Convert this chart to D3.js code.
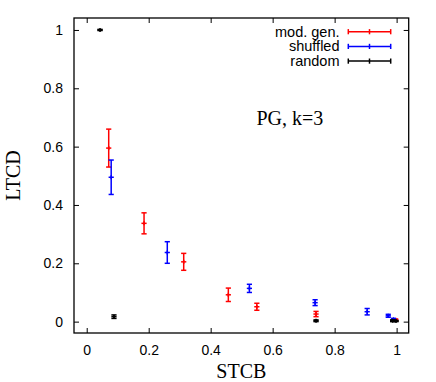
<!DOCTYPE html>
<html>
<head>
<meta charset="utf-8">
<script src="https://cdn.jsdelivr.net/npm/d3@7"></script>
<style>
  body { margin: 0; background: #fff; }
  svg { display: block; }
</style>
</head>
<body>
<div class="chart"></div>
<script>
const WIDTH = 436
const HEIGHT = 382

// values (STCB, LTCD, error)
const modX = [0.071, 0.185, 0.313, 0.457, 0.549, 0.740, 0.997]
const modY = [0.595, 0.337, 0.205, 0.092, 0.051, 0.026, 0.006]
const modE = [0.065, 0.036, 0.029, 0.023, 0.012, 0.009, 0.003]

const shufX = [0.079, 0.260, 0.525, 0.737, 0.905, 0.973, 0.990]
const shufY = [0.495, 0.237, 0.114, 0.065, 0.034, 0.020, 0.008]
const shufE = [0.059, 0.037, 0.014, 0.010, 0.011, 0.005, 0.003]

const randX = [0.043, 0.088, 0.740, 0.987, 0.998]
const randY = [1.0, 0.017, 0.003, 0.003, 0.002]
const randE = [0.002, 0.006, 0.003, 0.003, 0.002]

const seriesNames = ["mod. gen.", "shuffled", "random"]
const seriesColors = ["#ff0000", "#0000ff", "#000000"]
const xTicks = [0, 0.2, 0.4, 0.6, 0.8, 1]
const yTicks = [0, 0.2, 0.4, 0.6, 0.8, 1]

const pLeft = 74, pRight = 408.7, pTop = 18, pBottom = 333

const x = d3.scaleLinear().domain([-0.041, 1.039]).range([pLeft, pRight])
const y = d3.scaleLinear().domain([-0.039, 1.041]).range([pBottom, pTop])

const svg = d3.select("div.chart")
            .append("svg")
            .attr("width", WIDTH)
            .attr("height", HEIGHT);

const font = "'Liberation Sans', Arial, sans-serif"
const serif = "'Liberation Serif', 'Times New Roman', serif"

// axes: labels outside, ticks inward, mirrored on top/right
const axB = svg.append("g").attr("transform", `translate(0,${pBottom})`)
            .call(d3.axisBottom(x).tickValues(xTicks).tickSizeInner(-5).tickSizeOuter(0)
                  .tickPadding(12).tickFormat(d3.format("~g")))
const axL = svg.append("g").attr("transform", `translate(${pLeft},0)`)
            .call(d3.axisLeft(y).tickValues(yTicks).tickSizeInner(-5).tickSizeOuter(0)
                  .tickPadding(11).tickFormat(d3.format("~g")))
const axT = svg.append("g").attr("transform", `translate(0,${pTop})`)
            .call(d3.axisTop(x).tickValues(xTicks).tickSizeInner(-5).tickSizeOuter(0).tickFormat(""))
const axR = svg.append("g").attr("transform", `translate(${pRight},0)`)
            .call(d3.axisRight(y).tickValues(yTicks).tickSizeInner(-5).tickSizeOuter(0).tickFormat(""))

for (const ax of [axB, axL, axT, axR]) {
  ax.select(".domain").remove()
  ax.selectAll("line").attr("stroke", "#000").attr("stroke-width", 1)
  ax.selectAll("text").attr("font-family", font).attr("font-size", 14).attr("fill", "#000")
}

svg.append("rect")
   .attr("x", pLeft).attr("y", pTop)
   .attr("width", pRight - pLeft).attr("height", pBottom - pTop)
   .attr("fill", "none").attr("stroke", "#000").attr("stroke-width", 1.3)

// error bars
function drawSeries(xs, ys, es, color) {
  const g = svg.append("g").attr("stroke", color).attr("stroke-width", 1.5).attr("fill", "none")
  const pts = xs.map((v, i) => ({x: v, y: ys[i], e: es[i]}))
  const cap = 2.6
  pts.forEach(p => {
    const cx = x(p.x), y0 = y(p.y - p.e), y1 = y(p.y + p.e), cy = y(p.y)
    g.append("line").attr("x1", cx).attr("x2", cx).attr("y1", y0).attr("y2", y1)
    g.append("line").attr("x1", cx - cap).attr("x2", cx + cap).attr("y1", y0).attr("y2", y0)
    g.append("line").attr("x1", cx - cap).attr("x2", cx + cap).attr("y1", y1).attr("y2", y1)
    g.append("line").attr("x1", cx - cap).attr("x2", cx + cap).attr("y1", cy).attr("y2", cy)
    g.append("line").attr("x1", cx).attr("x2", cx).attr("y1", cy - 2).attr("y2", cy + 2)
  })
}

drawSeries(modX, modY, modE, seriesColors[0])
drawSeries(shufX, shufY, shufE, seriesColors[1])
drawSeries(randX, randY, randE, seriesColors[2])

// legend
seriesNames.forEach((name, i) => {
  const ly = 31.7 + i * 14.7
  svg.append("text")
     .attr("x", 339.5).attr("y", ly + 5)
     .attr("text-anchor", "end")
     .attr("font-family", font).attr("font-size", 14.5)
     .text(name)
  const g = svg.append("g").attr("stroke", seriesColors[i]).attr("stroke-width", 1.5)
  g.append("line").attr("x1", 348.3).attr("x2", 390.7).attr("y1", ly).attr("y2", ly)
  for (const lx of [348.3, 369.5, 390.7]) {
    g.append("line").attr("x1", lx).attr("x2", lx).attr("y1", ly - 2.6).attr("y2", ly + 2.6)
  }
})

// annotation and axis titles
svg.append("text")
   .attr("x", 256.5).attr("y", 125)
   .attr("font-family", serif).attr("font-size", 20)
   .text("PG, k=3")

svg.append("text")
   .attr("x", (pLeft + pRight) / 2).attr("y", 378)
   .attr("text-anchor", "middle")
   .attr("font-family", serif).attr("font-size", 20)
   .text("STCB")

svg.append("text")
   .attr("transform", `translate(20,${(pTop + pBottom) / 2}) rotate(-90)`)
   .attr("text-anchor", "middle")
   .attr("font-family", serif).attr("font-size", 20)
   .text("LTCD")
</script>
</body>
</html>
